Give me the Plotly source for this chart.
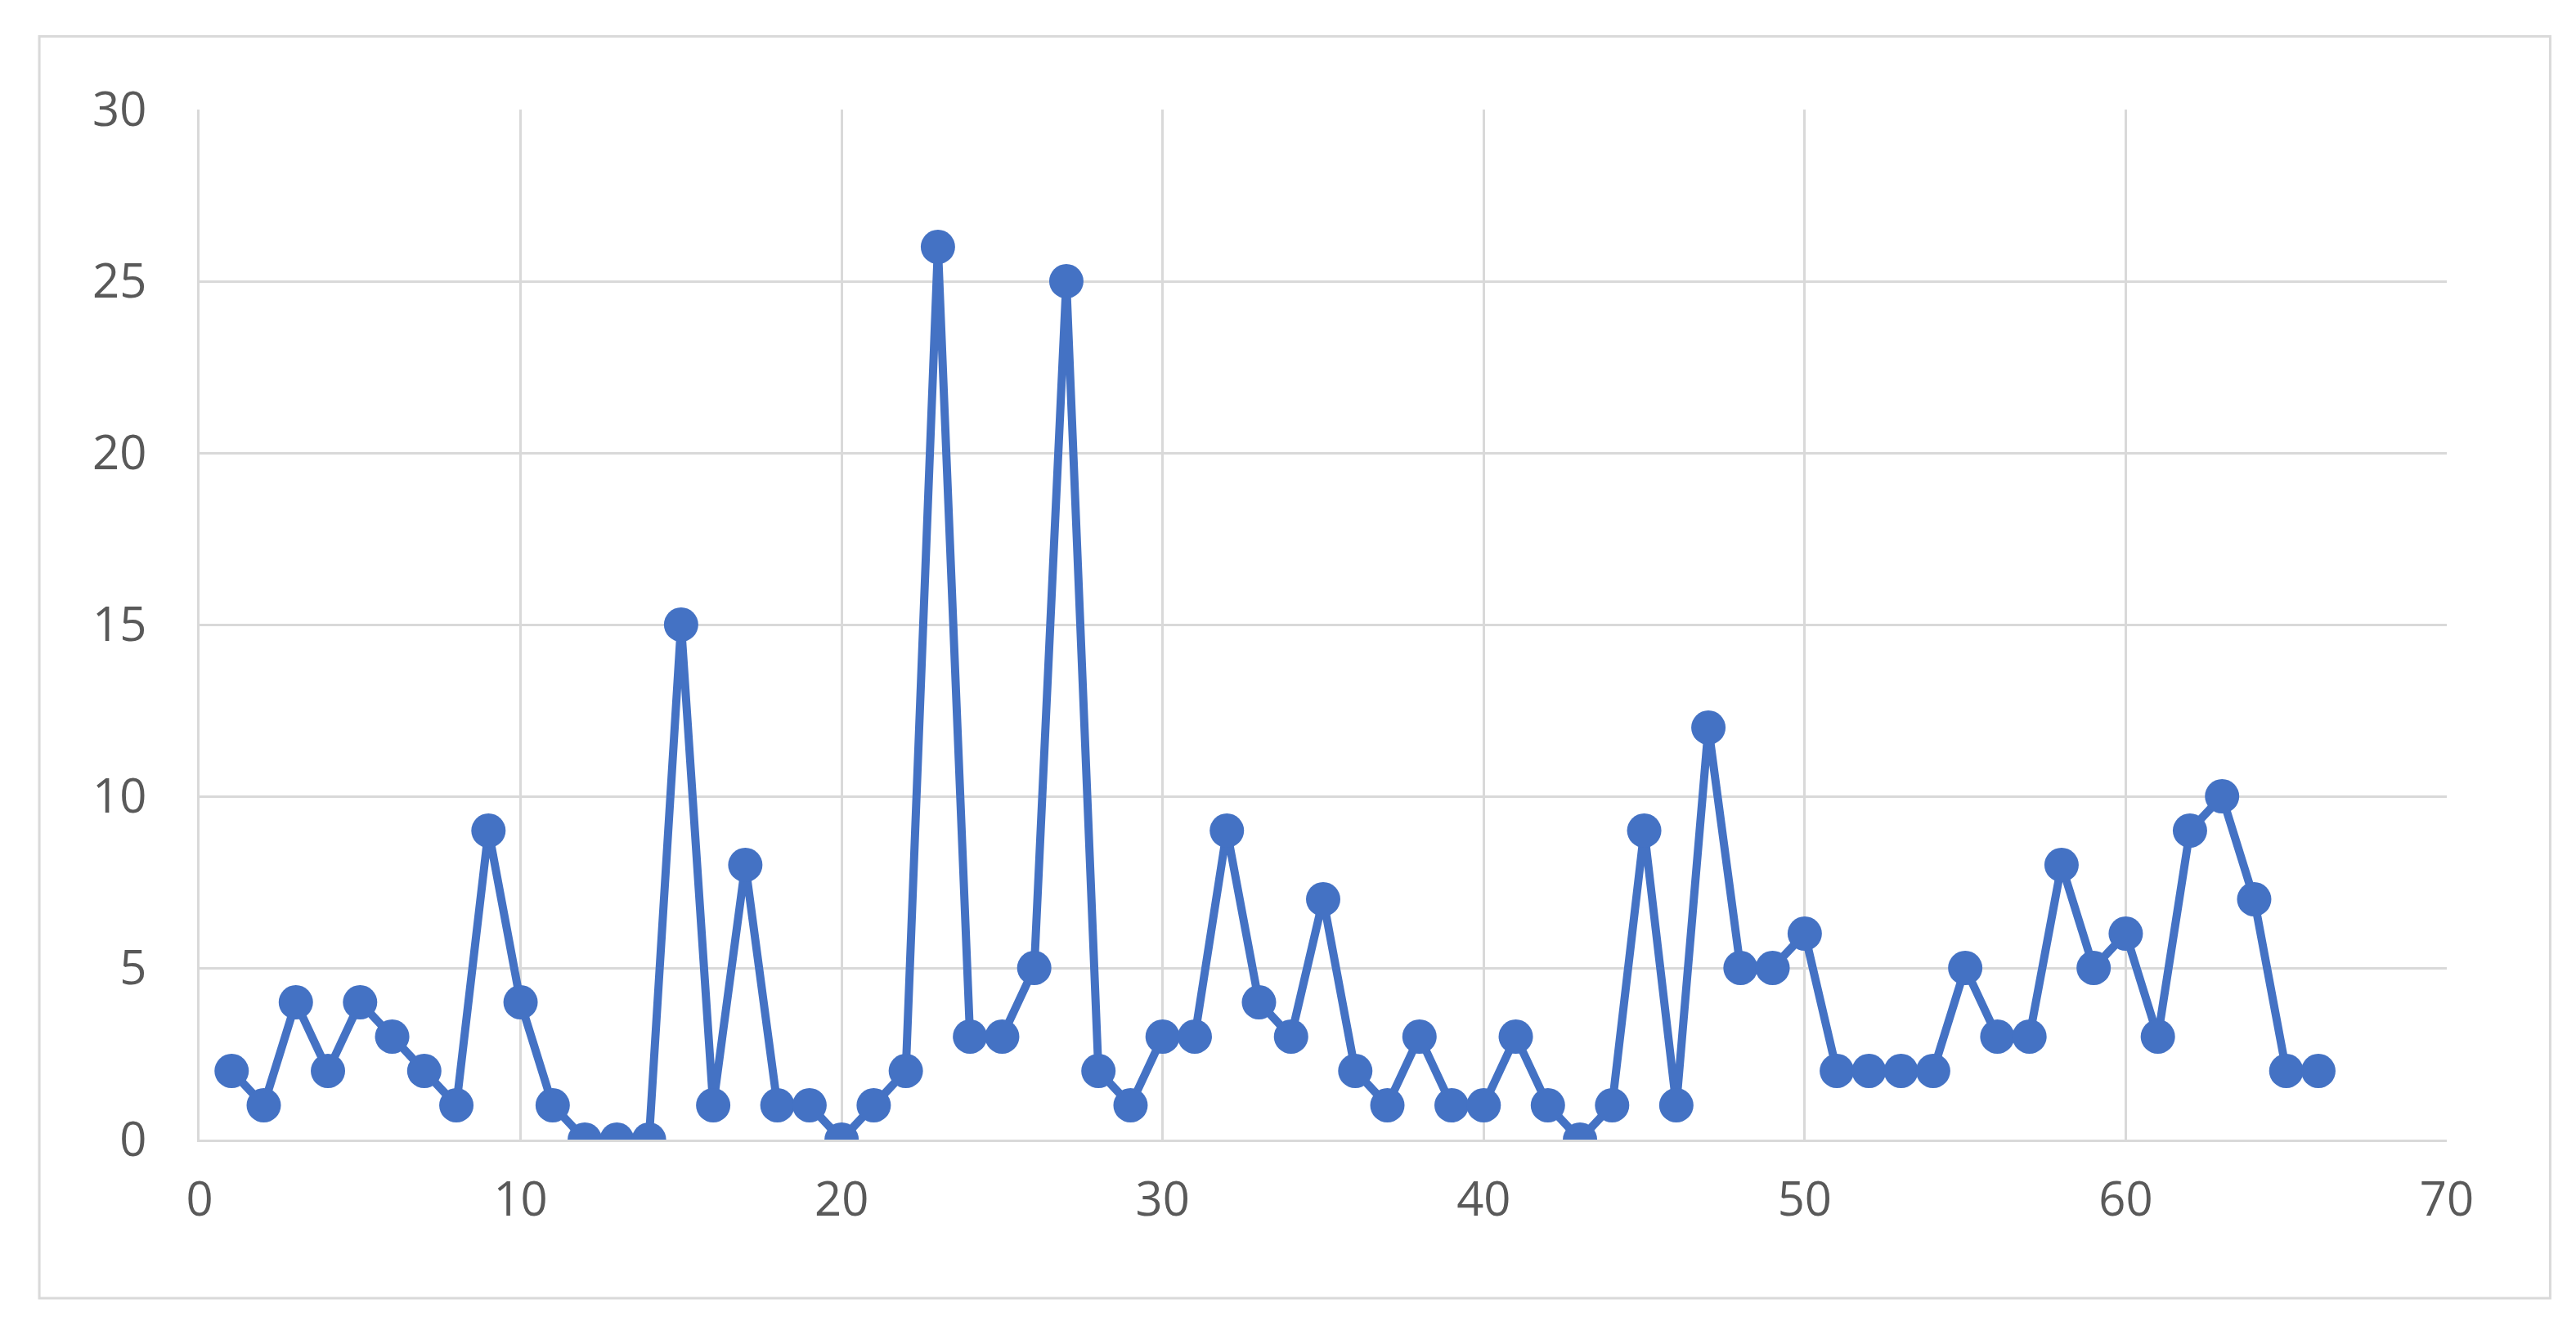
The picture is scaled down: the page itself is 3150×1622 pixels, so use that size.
import plotly.graph_objects as go

x_vals = list(range(1, 67))
y_vals = [2,1,4,2,4,3,2,1,9,4,1,0,0,0,15,1,8,1,1,0,1,2,26,3,3,5,25,2,1,3,3,9,4,3,7,2,1,3,1,1,3,1,0,1,9,1,12,5,5,6,2,2,2,2,5,3,3,8,5,6,3,9,10,7,2,2]

fig = go.Figure(go.Scatter(
    x=x_vals, y=y_vals, mode="lines+markers",
    line=dict(color="#4472C4", width=10),
    marker=dict(color="#4472C4", size=42),
))
ax = dict(showgrid=True, gridcolor="#D9D9D9", gridwidth=3, zeroline=False,
          showline=True, linecolor="#D9D9D9", linewidth=3, mirror=False,
          tickfont=dict(family="Open Sans, Liberation Sans", size=58, color="#595959"),
          ticks="")
fig.update_xaxes(range=[0, 70], dtick=10, ticklabelstandoff=20, **ax)
fig.update_yaxes(range=[0, 30], dtick=5, ticklabelstandoff=50, **ax)
fig.update_layout(
    width=3150, height=1622, showlegend=False,
    plot_bgcolor="white", paper_bgcolor="white",
    margin=dict(l=236, r=166, t=126, b=236),
    shapes=[dict(type="rect", xref="paper", yref="paper",
                 x0=-0.0713, x1=1.046, y0=-0.154, y1=1.071,
                 line=dict(color="#D9D9D9", width=3))],
)
fig.write_html("out.html")
